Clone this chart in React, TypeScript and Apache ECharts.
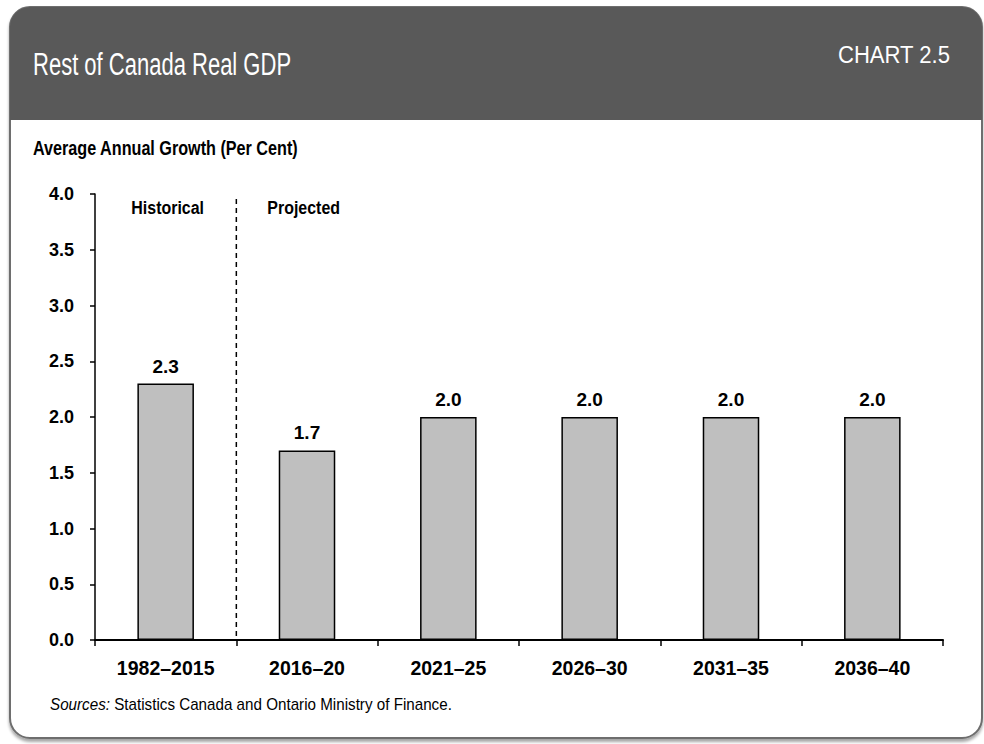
import { useEffect, useRef } from "react";
import * as echarts from "echarts";

const categories = ["1982–2015", "2016–20", "2021–25", "2026–30", "2031–35", "2036–40"];
const growth = [2.3, 1.7, 2.0, 2.0, 2.0, 2.0];
const yMin = 0;
const yMax = 4;
const yInterval = 0.5;
const titleText = "Rest of Canada Real GDP";
const chartNumber = "CHART 2.5";
const subtitleText = "Average Annual Growth (Per Cent)";
const periodLabels = ["Historical", "Projected"];
const sourceLabel = "Sources:";
const sourceText = "Statistics Canada and Ontario Ministry of Finance.";

const FONT = '"Liberation Sans", Arial, sans-serif';
const W = 984;
const H = 744;
const GRID = { left: 95, right: 41, top: 194, bottom: 104 };

export default function App() {
  const ref = useRef<HTMLDivElement>(null);

  useEffect(() => {
    if (!ref.current) return;
    const chart = echarts.init(ref.current, null, { renderer: "svg", width: W, height: H });
    const plotW = W - GRID.left - GRID.right;
    const catW = plotW / categories.length;
    const dividerX = GRID.left + catW;
    const axisY = H - GRID.bottom;

    chart.setOption({
      animation: false,
      backgroundColor: "#ffffff",
      textStyle: { fontFamily: FONT },
      grid: { ...GRID, containLabel: false },
      xAxis: {
        type: "category",
        data: categories,
        axisLine: { show: true, lineStyle: { color: "#000", width: 2 } },
        axisTick: { show: true, length: 6, alignWithLabel: false, lineStyle: { color: "#000", width: 1.5 } },
        axisLabel: { interval: 0, margin: 18, color: "#000", fontFamily: FONT, fontWeight: "bold", fontSize: 19.5 },
        splitLine: { show: false },
      },
      yAxis: {
        type: "value",
        min: yMin,
        max: yMax,
        interval: yInterval,
        axisLine: { show: true, lineStyle: { color: "#000", width: 1.5 } },
        axisTick: { show: true, length: 5, lineStyle: { color: "#000", width: 1.5 } },
        axisLabel: {
          margin: 21,
          color: "#000",
          fontFamily: FONT,
          fontWeight: "bold",
          fontSize: 18,
          formatter: (v: number) => v.toFixed(1),
        },
        splitLine: { show: false },
      },
      series: [
        {
          type: "bar",
          data: growth,
          barWidth: "40%",
          itemStyle: { color: "#bfbfbf", borderColor: "#000", borderWidth: 1.5 },
          label: {
            show: true,
            position: "top",
            distance: 8,
            color: "#000",
            fontFamily: FONT,
            fontWeight: "bold",
            fontSize: 19,
            formatter: (p: any) => Number(p.value).toFixed(1),
          },
        },
      ],
      graphic: [
        {
          type: "rect",
          z: -10,
          shape: { x: 10, y: 7, width: 972, height: 731, r: 20 },
          style: {
            fill: "#ffffff",
            stroke: "#6e6e6e",
            lineWidth: 2,
            shadowColor: "rgba(0,0,0,0.35)",
            shadowBlur: 3,
            shadowOffsetY: 3,
          },
        },
        {
          type: "rect",
          z: -9,
          shape: { x: 10, y: 7, width: 972, height: 113, r: [20, 20, 0, 0] },
          style: { fill: "#595959" },
        },
        {
          type: "text",
          x: 33,
          y: 65,
          scaleX: 0.71,
          style: { text: titleText, fill: "#fff", font: `normal 31px ${FONT}`, verticalAlign: "middle", align: "left" },
        },
        {
          type: "text",
          x: 950,
          y: 55,
          scaleX: 0.96,
          style: { text: chartNumber, fill: "#fff", font: `normal 23px ${FONT}`, verticalAlign: "middle", align: "right" },
        },
        {
          type: "text",
          x: 33,
          y: 148,
          scaleX: 0.77,
          style: { text: subtitleText, fill: "#000", font: `bold 21px ${FONT}`, verticalAlign: "middle", align: "left" },
        },
        {
          type: "text",
          x: GRID.left + catW / 2 + 2,
          y: 208,
          scaleX: 0.84,
          style: { text: periodLabels[0], fill: "#000", font: `bold 19px ${FONT}`, verticalAlign: "middle", align: "center" },
        },
        {
          type: "text",
          x: dividerX + 31,
          y: 208,
          scaleX: 0.84,
          style: { text: periodLabels[1], fill: "#000", font: `bold 19px ${FONT}`, verticalAlign: "middle", align: "left" },
        },
        {
          type: "line",
          shape: { x1: dividerX, y1: 199, x2: dividerX, y2: axisY },
          style: { stroke: "#000", lineWidth: 1.5, lineDash: [5, 4] },
        },
        {
          type: "text",
          x: 50,
          y: 704,
          scaleX: 0.95,
          style: {
            text: `{i|${sourceLabel}} ${sourceText}`,
            fill: "#000",
            font: `normal 16px ${FONT}`,
            verticalAlign: "middle",
            align: "left",
            rich: {
              i: { fontStyle: "italic", fontFamily: FONT, fontSize: 16, fill: "#000" },
            },
          },
        },
      ],
    });
    return () => chart.dispose();
  }, []);

  return <div ref={ref} style={{ position: "absolute", left: 0, top: 0, width: W, height: H }} />;
}
